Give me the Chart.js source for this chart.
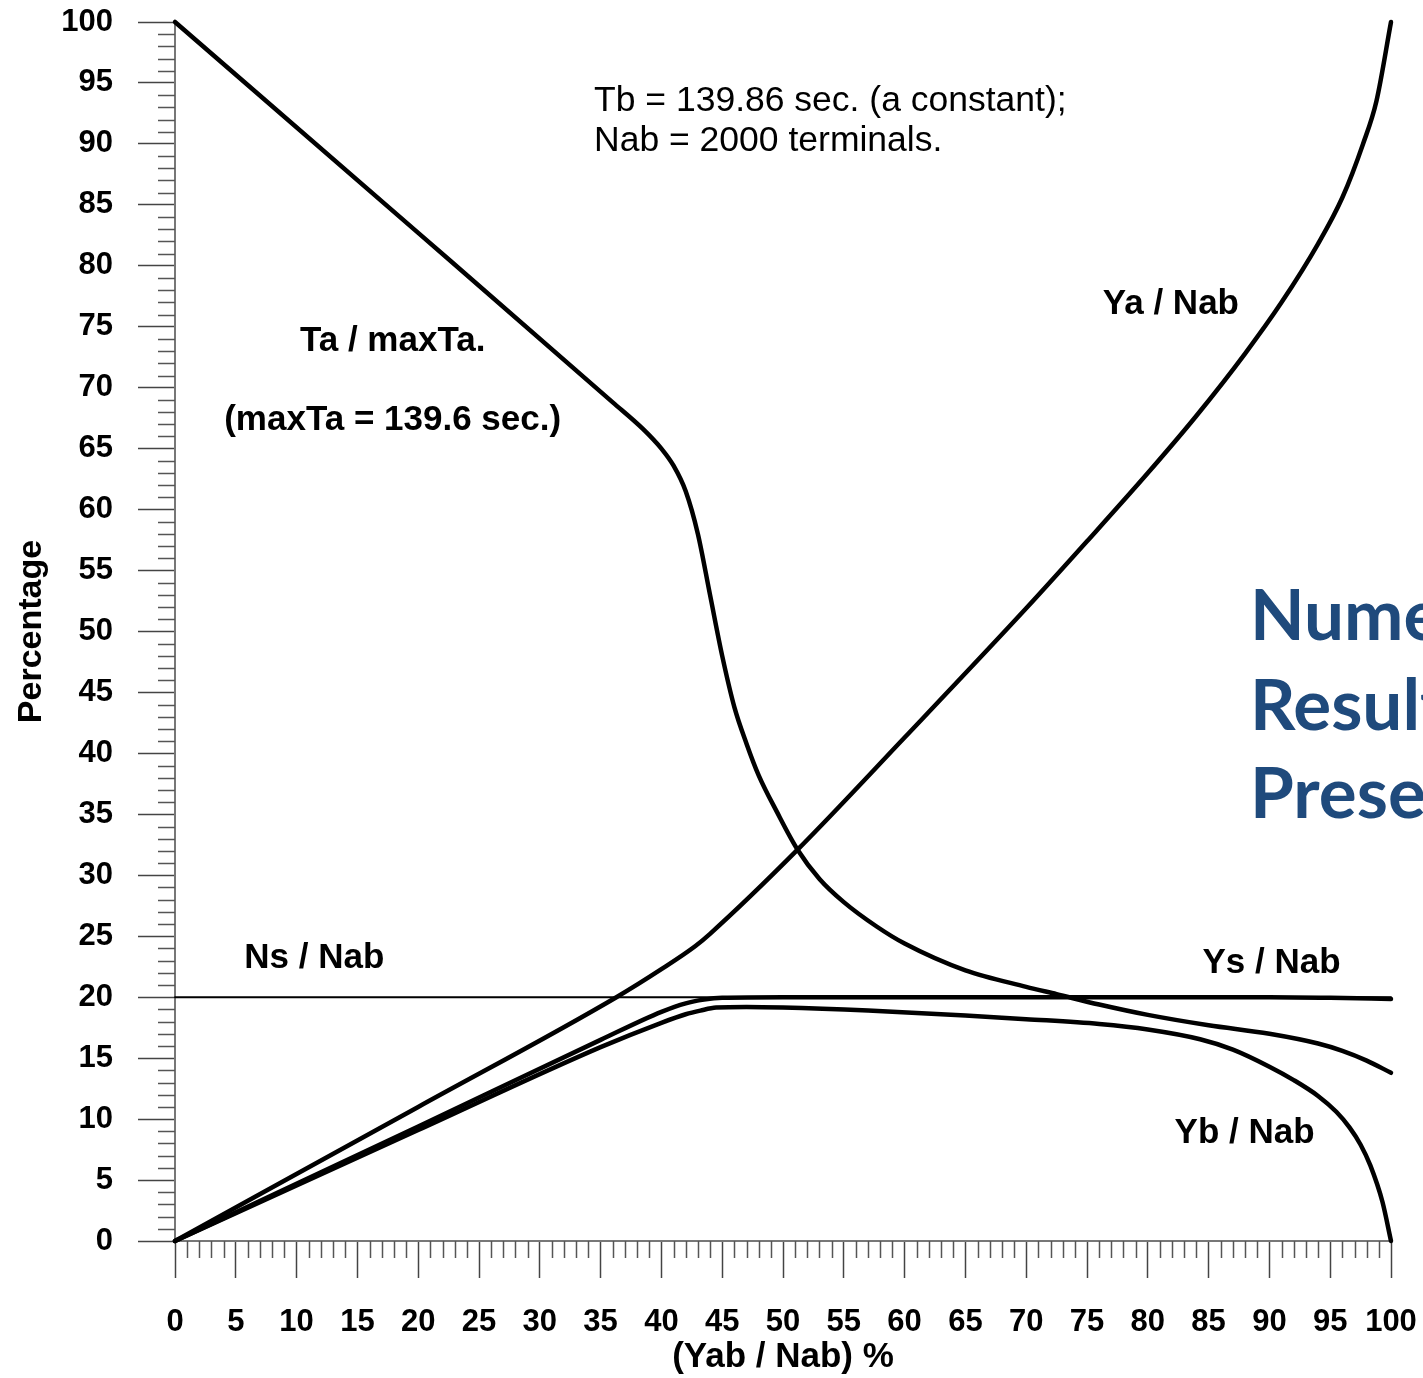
<!DOCTYPE html>
<html>
<head>
<meta charset="utf-8">
<script src="https://cdn.jsdelivr.net/npm/chart.js@4.4.1/dist/chart.umd.min.js"></script>
<style>
  html, body { margin: 0; padding: 0; background: #fff; }
  canvas { display: block; }
</style>
</head>
<body>
<canvas id="resultsChart" width="1423" height="1378"></canvas>
<script>
// x = (Yab / Nab) %, y = percentage
const taX = [0, 20, 36, 38.5, 40, 41, 42, 43, 44, 45, 46, 47, 48, 49.5, 51.2, 53, 55, 57.7, 60, 65, 70, 72.5, 76, 80, 85, 90, 94, 96, 98, 100];
const taY = [100, 82.7, 68.8, 66.6, 65, 63.6, 61.5, 58, 53, 48, 43.8, 40.8, 38.2, 35.2, 32.1, 29.7, 27.8, 25.8, 24.4, 22.2, 20.85, 20.25, 19.4, 18.55, 17.7, 17, 16.2, 15.6, 14.8, 13.8];

const yaX = [0, 20, 36.3, 40, 42.8, 44, 51.2, 60, 70, 75, 80, 84, 88, 91, 94, 96, 97.7, 98.8, 100];
const yaY = [0, 11, 20, 22.3, 24.2, 25.2, 32.1, 41.3, 51.9, 57.4, 63, 67.7, 72.8, 77, 81.8, 85.6, 90, 93.5, 100];

const ysX = [0, 20, 35, 40, 42, 43.5, 45, 50, 60, 70, 80, 90, 95, 100];
const ysY = [0, 9.4, 16.5, 18.8, 19.5, 19.8, 19.95, 20, 20, 20, 20, 20, 19.95, 19.85];

const ybX = [0, 20, 35, 40, 42, 43.2, 44.5, 47, 50, 57, 65, 70, 76, 80, 84.3, 87, 90, 92, 94, 95.5, 96.6, 97.5, 98.3, 99.3, 100];
const ybY = [0, 9.1, 15.9, 17.9, 18.6, 18.9, 19.15, 19.2, 19.15, 18.9, 18.5, 18.2, 17.8, 17.35, 16.55, 15.7, 14.3, 13.2, 11.9, 10.6, 9.3, 7.9, 6.2, 3.2, 0];

const nsX = [0, 100];
const nsY = [20, 20];

const tickValues = [0, 5, 10, 15, 20, 25, 30, 35, 40, 45, 50, 55, 60, 65, 70, 75, 80, 85, 90, 95, 100];

const toPoints = (xs, ys) => xs.map((x, i) => ({ x: x, y: ys[i] }));

const curve = (label, xs, ys, width) => ({
    label: label,
    data: toPoints(xs, ys),
    borderColor: '#000',
    borderWidth: width,
    pointRadius: 0,
    fill: false,
    clip: false,
    cubicInterpolationMode: 'monotone',
    borderCapStyle: 'round'
});

// minor ticks every 1 unit, shorter than the major ones
const minorTicks = {
    id: 'minorTicks',
    afterDraw(chart) {
        const ctx = chart.ctx;
        const xs = chart.scales.x;
        const ys = chart.scales.y;
        ctx.save();
        ctx.strokeStyle = '#555';
        ctx.lineWidth = 1.5;
        ctx.beginPath();
        for (let v = 1; v < 100; v++) {
            if (v % 5 === 0) continue;
            const px = Math.round(xs.getPixelForValue(v)) + 0.5;
            ctx.moveTo(px, xs.top);
            ctx.lineTo(px, xs.top + 17);
            const py = Math.round(ys.getPixelForValue(v)) + 0.5;
            ctx.moveTo(ys.right, py);
            ctx.lineTo(ys.right - 17, py);
        }
        ctx.stroke();
        ctx.restore();
    }
};

// text notes placed in data coordinates
const plainFont = '35.5px "Liberation Sans", Arial, sans-serif';
const boldFont = 'bold 35px "Liberation Sans", Arial, sans-serif';
const notes = [
    { text: 'Tb = 139.86 sec. (a constant);', x: 34.46, y: 93.5, align: 'left', font: plainFont },
    { text: 'Nab = 2000 terminals.', x: 34.46, y: 90.2, align: 'left', font: plainFont },
    { text: 'Ta / maxTa.', x: 17.9, y: 73.8, align: 'center', font: boldFont },
    { text: '(maxTa = 139.6 sec.)', x: 17.9, y: 67.3, align: 'center', font: boldFont },
    { text: 'Ya / Nab', x: 76.3, y: 76.8, align: 'left', font: boldFont },
    { text: 'Ns / Nab', x: 5.7, y: 23.2, align: 'left', font: boldFont },
    { text: 'Ys / Nab', x: 84.5, y: 22.8, align: 'left', font: boldFont },
    { text: 'Yb / Nab', x: 82.2, y: 8.8, align: 'left', font: boldFont }
];

const blueLines = ['Numerical', 'Results', 'Presentation'];
const blueBaselines = [49.3, 41.9, 34.7];

const textNotes = {
    id: 'textNotes',
    afterDraw(chart) {
        const ctx = chart.ctx;
        const xs = chart.scales.x;
        const ys = chart.scales.y;
        ctx.save();
        ctx.textBaseline = 'middle';
        ctx.fillStyle = '#000';
        notes.forEach(n => {
            ctx.font = n.font;
            ctx.textAlign = n.align;
            ctx.fillText(n.text, xs.getPixelForValue(n.x), ys.getPixelForValue(n.y));
        });
        ctx.textBaseline = 'alphabetic';
        ctx.textAlign = 'left';
        ctx.font = 'bold 71px Lato, "Open Sans", sans-serif';
        ctx.fillStyle = '#1f4a7c';
        blueLines.forEach((t, i) => {
            ctx.fillText(t, xs.getPixelForValue(88.4), ys.getPixelForValue(blueBaselines[i]));
        });
        ctx.restore();
    }
};

const ctx = document.getElementById('resultsChart');

new Chart(ctx, {
    type: 'line',
    data: {
        datasets: [
            curve('Ta / maxTa', taX, taY, 4.5),
            curve('Ya / Nab', yaX, yaY, 4.5),
            curve('Ys / Nab', ysX, ysY, 4.5),
            curve('Yb / Nab', ybX, ybY, 4.5),
            curve('Ns / Nab', nsX, nsY, 2)
        ]
    },
    options: {
        responsive: false,
        animation: false,
        layout: { padding: { top: 22, right: 32, left: 0, bottom: 0 } },
        plugins: {
            legend: { display: false },
            tooltip: { enabled: false }
        },
        scales: {
            x: {
                type: 'linear',
                min: 0,
                max: 100,
                afterBuildTicks: (scale) => {
                    scale.ticks = tickValues.map(v => ({ value: v }));
                },
                afterFit: (scale) => {
                    scale.height = 137;
                    scale.paddingLeft = 0;
                    scale.paddingRight = 0;
                },
                border: { color: '#777', width: 2 },
                grid: { drawOnChartArea: false, tickLength: 37, tickColor: '#444', tickWidth: 1.5 },
                ticks: {
                    padding: 26,
                    color: '#000',
                    maxRotation: 0,
                    autoSkip: false,
                    font: { family: '"Liberation Sans", Arial, sans-serif', size: 31, weight: 'bold' }
                },
                title: {
                    display: true,
                    text: '(Yab / Nab) %',
                    color: '#000',
                    padding: { top: 0, bottom: 0 },
                    font: { family: '"Liberation Sans", Arial, sans-serif', size: 35, weight: 'bold' }
                }
            },
            y: {
                type: 'linear',
                min: 0,
                max: 100,
                afterBuildTicks: (scale) => {
                    scale.ticks = tickValues.map(v => ({ value: v }));
                },
                afterFit: (scale) => {
                    scale.width = 175;
                    scale.paddingTop = 0;
                    scale.paddingBottom = 0;
                },
                border: { color: '#777', width: 2 },
                grid: { drawOnChartArea: false, tickLength: 37, tickColor: '#444', tickWidth: 1.5 },
                ticks: {
                    padding: 25,
                    color: '#000',
                    autoSkip: false,
                    font: { family: '"Liberation Sans", Arial, sans-serif', size: 31, weight: 'bold' }
                },
                title: {
                    display: true,
                    text: 'Percentage',
                    color: '#000',
                    padding: { top: 11, bottom: 0 },
                    font: { family: '"Liberation Sans", Arial, sans-serif', size: 34, weight: 'bold' }
                }
            }
        }
    },
    plugins: [minorTicks, textNotes]
});
</script>
</body>
</html>
